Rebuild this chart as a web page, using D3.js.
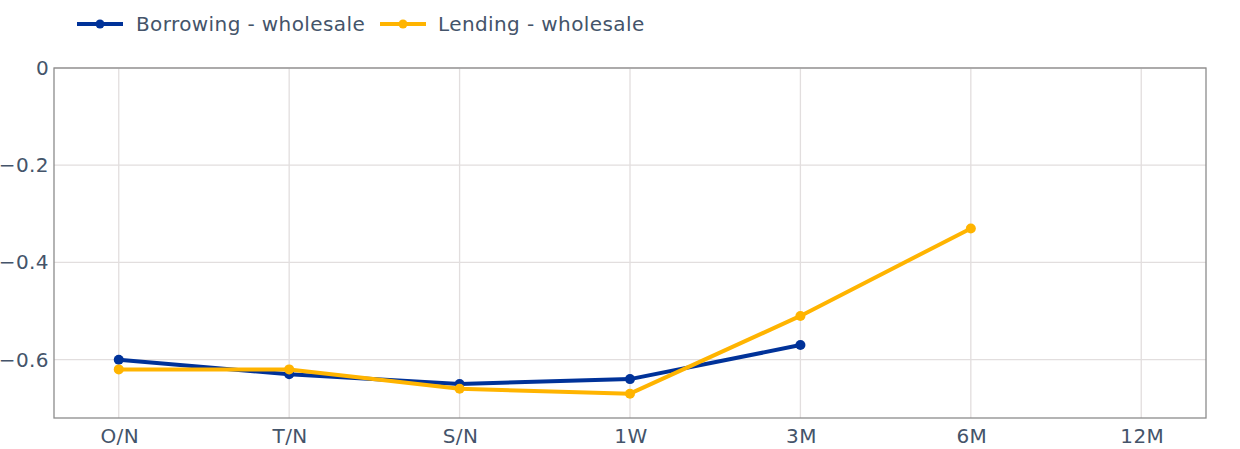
<!DOCTYPE html>
<html><head><meta charset="utf-8">
<script src="https://cdn.jsdelivr.net/npm/d3@7"></script>
<style>body{margin:0;background:#fff}svg{display:block}text{font-family:"DejaVu Sans",Verdana,sans-serif;fill:#44546a;letter-spacing:0.4px}</style>
</head><body><svg id="c" width="1240" height="449"></svg>
<script>
const categories = ["O/N","T/N","S/N","1W","3M","6M","12M"];
const borrowing = [-0.60,-0.63,-0.65,-0.64,-0.57,null,null];
const lending = [-0.62,-0.62,-0.66,-0.67,-0.51,-0.33,null];
const yTicks = [0,-0.2,-0.4,-0.6];
const seriesNames = ["Borrowing - wholesale","Lending - wholesale"];
const colors = ["#003299","#FFB400"];

const svg = d3.select("#c");
const L=54,R=1206,T=68,B=418;
const x = d3.scaleLinear().domain([-0.38,6.38]).range([L,R]);
const y = d3.scaleLinear().domain([-0.72,0]).range([B,T]);
const fmt = v => v===0?"0":d3.format(".1f")(v).replace("-","\u2212");
const FS = 20;

const g = svg.append("g");
g.selectAll(".vg").data(categories).join("line").attr("x1",(d,i)=>x(i)).attr("x2",(d,i)=>x(i)).attr("y1",T).attr("y2",B).attr("stroke","#e2dede").attr("stroke-width",1.3);
g.selectAll(".hg").data(yTicks).join("line").attr("x1",L).attr("x2",R).attr("y1",d=>y(d)).attr("y2",d=>y(d)).attr("stroke","#e2dede").attr("stroke-width",1.3);
g.append("rect").attr("x",L).attr("y",T).attr("width",R-L).attr("height",B-T).attr("fill","none").attr("stroke","#8c8c8c").attr("stroke-width",1.3);

g.selectAll(".yt").data(yTicks).join("text").attr("x",L-5).attr("y",d=>y(d)).attr("dy","0.35em").attr("text-anchor","end").attr("font-size",FS).text(fmt);
g.selectAll(".xt").data(categories).join("text").attr("x",(d,i)=>x(i)+1).attr("y",B+25).attr("text-anchor","middle").attr("font-size",FS).text(d=>d);

[borrowing,lending].forEach((s,k)=>{
  const pts = s.map((v,i)=>({i,v})).filter(p=>p.v!==null);
  const line = d3.line().x(p=>x(p.i)).y(p=>y(p.v));
  svg.append("path").datum(pts).attr("d",line).attr("fill","none").attr("stroke",colors[k]).attr("stroke-width",4).attr("stroke-linejoin","round");
  svg.selectAll(null).data(pts).join("circle").attr("cx",p=>x(p.i)).attr("cy",p=>y(p.v)).attr("r",5).attr("fill",colors[k]);
});
const leg = [{x:77,tx:136},{x:380,tx:438}];
seriesNames.forEach((n,k)=>{
  const lg = svg.append("g");
  lg.append("line").attr("x1",leg[k].x).attr("x2",leg[k].x+46).attr("y1",24).attr("y2",24).attr("stroke",colors[k]).attr("stroke-width",4);
  lg.append("circle").attr("cx",leg[k].x+23).attr("cy",24).attr("r",4.5).attr("fill",colors[k]);
  lg.append("text").attr("x",leg[k].tx).attr("y",24).attr("dy","0.35em").attr("font-size",FS).text(n);
});
</script></body></html>
